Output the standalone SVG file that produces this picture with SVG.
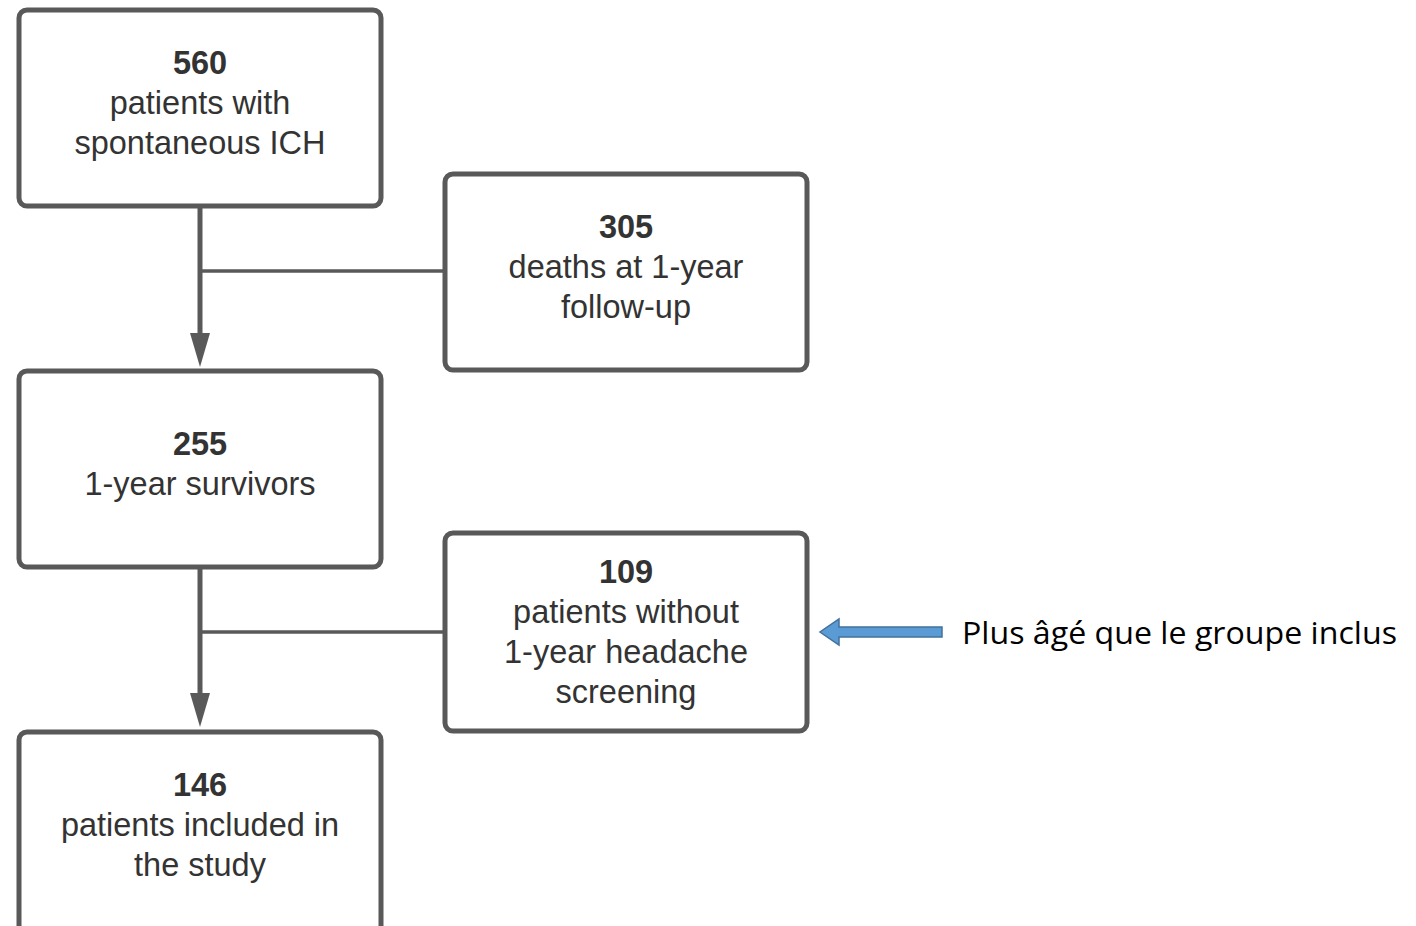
<svg xmlns="http://www.w3.org/2000/svg" width="1416" height="926" viewBox="0 0 1416 926">
<style>
.box{fill:#fff;stroke:#595959;stroke-width:5}
.t{font-family:"Liberation Sans",Arial,sans-serif;font-size:32.5px;fill:#333;text-anchor:middle}
.b{font-weight:bold}
.ln{stroke:#595959;fill:none}
</style>
<rect width="1416" height="926" fill="#fff"/>
<g id="connectors">
<line class="ln" x1="200" y1="206" x2="200" y2="334" stroke-width="5"/>
<path d="M190,333 L210,333 L200,367 Z" fill="#595959"/>
<line class="ln" x1="200" y1="271" x2="446" y2="271" stroke-width="3.5"/>
<line class="ln" x1="200" y1="567" x2="200" y2="694" stroke-width="5"/>
<path d="M190,693 L210,693 L200,727 Z" fill="#595959"/>
<line class="ln" x1="200" y1="632" x2="446" y2="632" stroke-width="3.5"/>
</g>
<g id="n560">
<rect class="box" x="19" y="10" width="362" height="196" rx="8"/>
<text class="t b" x="200" y="74">560</text>
<text class="t" x="200" y="114">patients with</text>
<text class="t" x="200" y="154">spontaneous ICH</text>
</g>
<g id="n305">
<rect class="box" x="445" y="174" width="362" height="196" rx="8"/>
<text class="t b" x="626" y="238">305</text>
<text class="t" x="626" y="278">deaths at 1-year</text>
<text class="t" x="626" y="318">follow-up</text>
</g>
<g id="n255">
<rect class="box" x="19" y="371" width="362" height="196" rx="8"/>
<text class="t b" x="200" y="455">255</text>
<text class="t" x="200" y="495">1-year survivors</text>
</g>
<g id="n109">
<rect class="box" x="445" y="533" width="362" height="198" rx="8"/>
<text class="t b" x="626" y="583">109</text>
<text class="t" x="626" y="623">patients without</text>
<text class="t" x="626" y="663">1-year headache</text>
<text class="t" x="626" y="703">screening</text>
</g>
<g id="n146">
<rect class="box" x="19" y="732" width="362" height="210" rx="8"/>
<text class="t b" x="200" y="796">146</text>
<text class="t" x="200" y="836">patients included in</text>
<text class="t" x="200" y="876">the study</text>
</g>
<g id="note">
<path d="M942,627 L839,627 L839,619 L820,632 L839,645 L839,637 L942,637 Z" fill="#5b9bd5" stroke="#41719c" stroke-width="1.5"/>
<text x="962" y="644" font-family="'Open Sans','Noto Sans',sans-serif" font-size="31" fill="#000" textLength="435" lengthAdjust="spacingAndGlyphs">Plus âgé que le groupe inclus</text>
</g>
</svg>
